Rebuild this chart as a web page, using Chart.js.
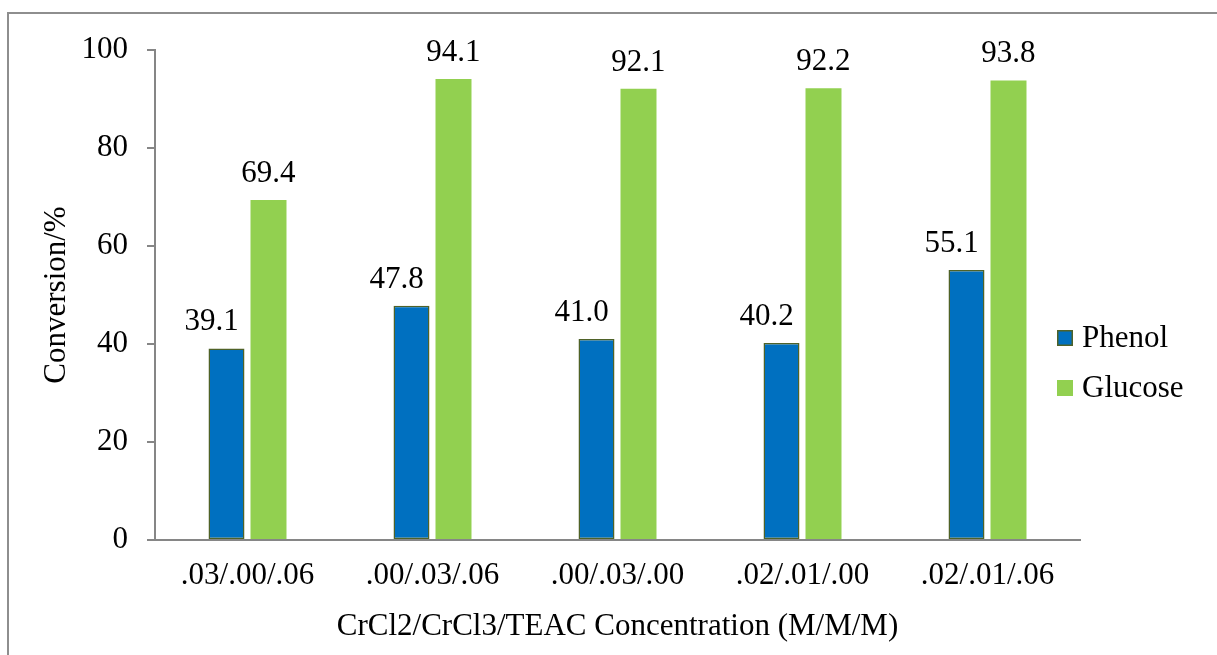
<!DOCTYPE html>
<html>
<head>
<meta charset="utf-8">
<script src="https://cdn.jsdelivr.net/npm/chart.js@4/dist/chart.umd.min.js"></script>
<style>
    html, body { margin: 0; padding: 0; background: #fff; overflow: hidden; }
    .frame {
        position: absolute; left: 7px; top: 12px; width: 1400px; height: 800px;
        border: 2px solid #8e8e8e; box-sizing: border-box;
    }
    canvas { position: absolute; left: 0; top: 0; }
</style>
</head>
<body>
<div class="frame"></div>
<canvas id="chart" width="1217" height="655"></canvas>
<script>
const categories = [".03/.00/.06", ".00/.03/.06", ".00/.03/.00", ".02/.01/.00", ".02/.01/.06"];
const phenolValues = [39.1, 47.8, 41.0, 40.2, 55.1];
const glucoseValues = [69.4, 94.1, 92.1, 92.2, 93.8];
const yTicks = [0, 20, 40, 60, 80, 100];

const fontFamily = "'Liberation Serif', 'Times New Roman', serif";
const axisGray = "#868686";

// value labels above each bar, phenol ones nudged left like the original
const valueLabels = {
    id: "valueLabels",
    afterDatasetsDraw: (chart) => {
        const ctx = chart.ctx;
        ctx.save();
        ctx.font = `31px ${fontFamily}`;
        ctx.fillStyle = "#000";
        ctx.textAlign = "center";
        ctx.textBaseline = "alphabetic";
        chart.data.datasets.forEach((dataset, i) => {
            const meta = chart.getDatasetMeta(i);
            const shift = i === 0 ? -15 : 0;
            meta.data.forEach((bar, j) => {
                ctx.fillText(Number(dataset.data[j]).toFixed(1), bar.x + shift, bar.y - 18);
            });
        });
        ctx.restore();
    },
};

// legend sits over the right end of the plot area
const sideLegend = {
    id: "sideLegend",
    afterDraw: (chart) => {
        const ctx = chart.ctx;
        ctx.save();
        ctx.font = `31px ${fontFamily}`;
        ctx.textBaseline = "middle";
        ctx.textAlign = "left";
        chart.data.datasets.forEach((dataset, i) => {
            const y = 338 + i * 50;
            ctx.fillStyle = dataset.backgroundColor;
            ctx.fillRect(1057, y - 8, 16, 16);
            if (dataset.borderWidth) {
                ctx.strokeStyle = dataset.borderColor;
                ctx.lineWidth = 1.5;
                ctx.strokeRect(1057.75, y - 7.25, 14.5, 14.5);
            }
            ctx.fillStyle = "#000";
            ctx.fillText(dataset.label, 1082, y + 1);
        });
        ctx.restore();
    },
};

new Chart(document.getElementById("chart"), {
    type: "bar",
    data: {
        labels: categories,
        datasets: [
            {
                label: "Phenol",
                data: phenolValues,
                backgroundColor: "#0070C0",
                borderColor: "#4F6228",
                borderWidth: 1.5,
                borderSkipped: false,
            },
            {
                label: "Glucose",
                data: glucoseValues,
                backgroundColor: "#92D050",
                borderWidth: 0,
            },
        ],
    },
    options: {
        responsive: false,
        animation: false,
        categoryPercentage: 0.454,
        barPercentage: 0.857,
        layout: {
            padding: { left: 38, right: 137, top: 50, bottom: 10 },
        },
        plugins: {
            legend: { display: false },
            tooltip: { enabled: false },
        },
        scales: {
            x: {
                grid: { display: false, drawTicks: false },
                border: { display: true, color: axisGray, width: 2 },
                ticks: {
                    color: "#000",
                    font: { family: fontFamily, size: 31 },
                    padding: 17,
                    maxRotation: 0,
                },
                title: {
                    display: true,
                    text: "CrCl2/CrCl3/TEAC Concentration (M/M/M)",
                    color: "#000",
                    font: { family: fontFamily, size: 31 },
                    padding: 0,
                },
                afterFit: (scale) => {
                    scale.height = 105;
                },
            },
            y: {
                min: 0,
                max: 100,
                afterBuildTicks: (scale) => {
                    scale.ticks = yTicks.map((value) => ({ value }));
                },
                grid: {
                    drawOnChartArea: false,
                    drawTicks: true,
                    tickLength: 8,
                    color: axisGray,
                    lineWidth: 2,
                },
                border: { display: true, color: axisGray, width: 2 },
                ticks: {
                    color: "#000",
                    font: { family: fontFamily, size: 31 },
                    padding: 19,
                },
                title: {
                    display: true,
                    text: "Conversion/%",
                    color: "#000",
                    font: { family: fontFamily, size: 31 },
                    padding: 0,
                },
                afterFit: (scale) => {
                    scale.width = 117;
                },
            },
        },
    },
    plugins: [valueLabels, sideLegend],
});
</script>
</body>
</html>
